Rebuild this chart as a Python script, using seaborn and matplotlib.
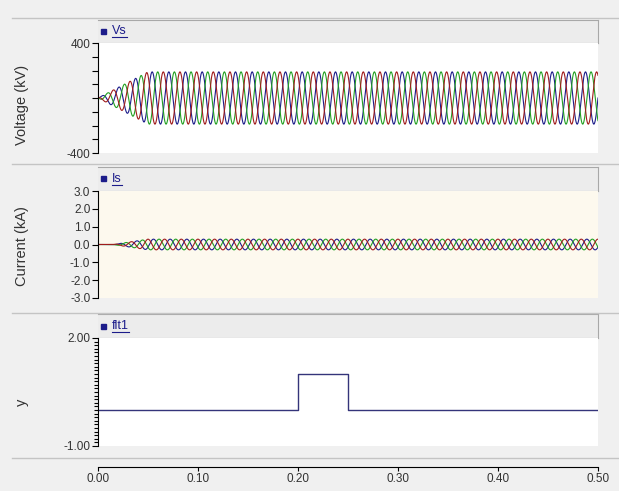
import numpy as np
import pandas as pd
import matplotlib
matplotlib.use("Agg")
import matplotlib.pyplot as plt
import seaborn as sns
from matplotlib.lines import Line2D
from matplotlib.patches import Rectangle
from matplotlib.ticker import MultipleLocator, FormatStrFormatter

# values
freq_hz = 60.0
v_peak_kv = 190.0          # steady phase voltage peak
v_ramp_end = 0.05          # source ramps up over the first 50 ms
i_peak_ka = 0.3
i_ramp_start = 0.015
i_ramp_end = 0.05
phases = ["A", "B", "C"]
phase_colors = ["#1c1c8a", "#22a022", "#a01c1c"]
fault_t = [0.0, 0.20, 0.20, 0.25, 0.25, 0.50]
fault_y = [0.0, 0.0, 1.0, 1.0, 0.0, 0.0]
x_ticks = [0.0, 0.1, 0.2, 0.3, 0.4, 0.5]

t = np.linspace(0, 0.5, 6001)
shift = {"A": 0.0, "B": -2 * np.pi / 3, "C": 2 * np.pi / 3}
v_env = np.clip(t / v_ramp_end, 0, 1) * v_peak_kv
i_env = np.clip((t - i_ramp_start) / (i_ramp_end - i_ramp_start), 0, 1) * i_peak_ka

v_df = pd.concat([pd.DataFrame({"t": t, "val": v_env * np.sin(2 * np.pi * freq_hz * t + shift[p]), "phase": p})
                  for p in phases])
i_df = pd.concat([pd.DataFrame({"t": t, "val": i_env * np.sin(2 * np.pi * freq_hz * t + shift[p] - 0.5), "phase": p})
                  for p in phases])
f_df = pd.DataFrame({"t": fault_t, "val": fault_y})

W, H = 619, 491
bg = "#f0f0f0"
plt.rcParams["font.family"] = ["Liberation Sans", "DejaVu Sans"]
plt.rcParams["axes.unicode_minus"] = False

fig = plt.figure(figsize=(W / 100, H / 100), dpi=100, facecolor=bg)


def rect(x0, y0, x1, y1):
    return [x0 / W, 1 - y1 / H, (x1 - x0) / W, (y1 - y0) / H]


def fy(y):
    return 1 - y / H


# separator lines across the window
for yy in [18, 164, 313, 458]:
    fig.add_artist(Line2D([12 / W, 1], [fy(yy), fy(yy)], color="#c4c4c4", lw=1))

panels = [
    dict(box=(98, 43, 598, 153), head=(98, 20, 598, 43), name="Vs", face="white", ylabel="Voltage (kV)", ylab_y=105),
    dict(box=(98, 191, 598, 298), head=(98, 167, 598, 191), name="Is", face="#fdf9ee", ylabel="Current (kA)", ylab_y=246),
    dict(box=(98, 338, 598, 446), head=(98, 314, 598, 338), name="flt1", face="white", ylabel="y", ylab_y=402),
]

axes = []
names = []
for p in panels:
    hx = fig.add_axes(rect(*p["head"]))
    hx.set_facecolor("#ececec")
    hx.set_xticks([])
    hx.set_yticks([])
    for s in hx.spines.values():
        s.set_color("#a8a8a8")
        s.set_linewidth(0.8)
    hx.spines["left"].set_visible(False)
    ax = fig.add_axes(rect(*p["box"]))
    ax.set_facecolor(p["face"])
    for s in ["top", "right", "bottom"]:
        ax.spines[s].set_visible(False)
    ax.spines["left"].set_color("black")
    ax.spines["left"].set_linewidth(0.8)
    ax.set_xlim(0, 0.5)
    ax.tick_params(axis="y", which="both", direction="out", length=4, width=0.8,
                   labelsize=8.5, labelcolor="#333333", pad=1.5)
    ax.set_xticks([])
    fig.text(22 / W, fy(p["ylab_y"]), p["ylabel"], rotation=90, ha="center", va="center",
             fontsize=10.5, color="#333333")
    # legend marker + name
    hy = (p["head"][1] + p["head"][3]) / 2
    fig.add_artist(Rectangle((101 / W, fy(hy + 2.5)), 5 / W, 5 / H, color="#1c1c8a"))
    names.append(fig.text(112 / W, fy(hy), p["name"], ha="left", va="center", fontsize=9, color="#1c1c8a"))
    axes.append(ax)

ax1, ax2, ax3 = axes

sns.lineplot(data=v_df, x="t", y="val", hue="phase", palette=phase_colors, legend=False,
             estimator=None, sort=False, lw=0.8, ax=ax1)
ax1.set_ylim(-400, 400)
ax1.set_yticks([-400, 400])
ax1.yaxis.set_minor_locator(MultipleLocator(100))

sns.lineplot(data=i_df, x="t", y="val", hue="phase", palette=phase_colors, legend=False,
             estimator=None, sort=False, lw=0.8, ax=ax2)
ax2.set_ylim(-3, 3)
ax2.set_yticks(np.arange(-3, 3.01, 1.0))
ax2.yaxis.set_major_formatter(FormatStrFormatter("%.1f"))

sns.lineplot(data=f_df, x="t", y="val", color="#34347a", estimator=None, sort=False, lw=1.0, ax=ax3)
ax3.set_ylim(-1, 2)
ax3.set_yticks([-1, 2])
ax3.yaxis.set_major_formatter(FormatStrFormatter("%.2f"))
ax3.yaxis.set_minor_locator(MultipleLocator(0.1))
ax3.tick_params(axis="y", which="minor", length=3)

for ax in axes:
    ax.set_xlim(0, 0.5)
    ax.set_xlabel("")
    ax.set_ylabel("")

# time axis below the bottom panel
ax3.spines["bottom"].set_visible(True)
ax3.spines["bottom"].set_position(("outward", 15))
ax3.spines["bottom"].set_color("black")
ax3.spines["bottom"].set_linewidth(0.8)
ax3.set_xticks(x_ticks)
ax3.xaxis.set_major_formatter(FormatStrFormatter("%.2f"))
ax3.tick_params(axis="x", direction="out", length=3, width=0.8, labelsize=8.5, labelcolor="#333333", pad=1.5)

# underline the signal names
fig.canvas.draw()
r = fig.canvas.get_renderer()
for tx in names:
    bb = tx.get_window_extent(renderer=r)
    fig.add_artist(Line2D([bb.x0 / W, bb.x1 / W], [(bb.y0 + 0.5) / H, (bb.y0 + 0.5) / H], color="#1c1c8a", lw=0.8))

fig.savefig("out.png", dpi=100, facecolor=bg)
